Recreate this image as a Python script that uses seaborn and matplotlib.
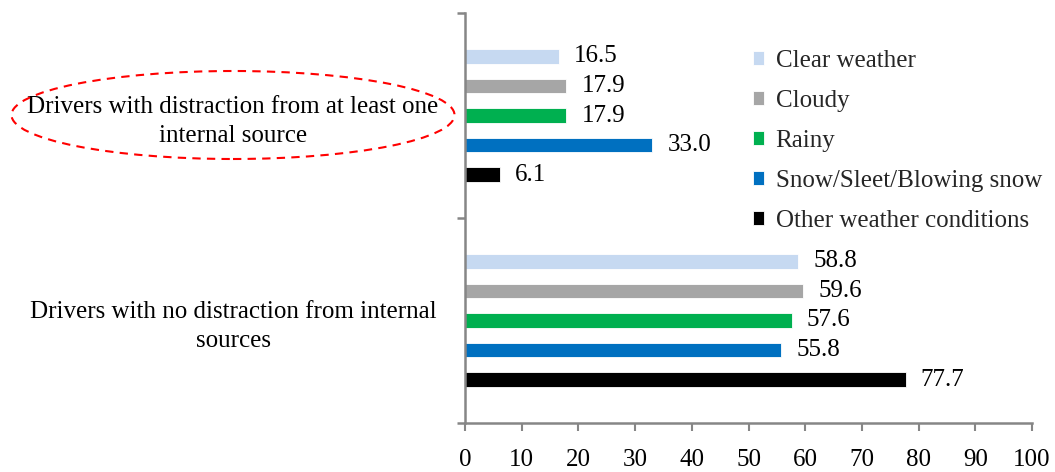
"""
Distraction from internal sources by weather condition - horizontal grouped bars.
"""

import matplotlib
matplotlib.use('Agg')
import matplotlib.pyplot as plt
from matplotlib.patches import Ellipse
import seaborn as sns
import pandas as pd

# data
groups = ['Drivers with distraction from at least one\ninternal source',
          'Drivers with no distraction from internal\nsources']
conditions = ['Clear weather', 'Cloudy', 'Rainy', 'Snow/Sleet/Blowing snow',
              'Other weather conditions']
internal_source = [16.5, 17.9, 17.9, 33.0, 6.1]
no_internal = [58.8, 59.6, 57.6, 55.8, 77.7]
colors = ['#C6D9F1', '#A6A6A6', '#00B050', '#0070C0', '#000000']
x_ticks = list(range(0, 101, 10))

rows = []
for cond, a, b in zip(conditions, internal_source, no_internal):
    rows.append({'group': groups[0], 'condition': cond, 'value': a})
    rows.append({'group': groups[1], 'condition': cond, 'value': b})
df = pd.DataFrame(rows)

FS = 18

sns.set_style('white')
plt.rcParams['font.family'] = ['Liberation Serif', 'DejaVu Serif']
plt.rcParams['font.size'] = FS

fig = plt.figure(figsize=(10.55, 4.72), dpi=100)
ax = fig.add_axes([465 / 1055, 49 / 472, 567 / 1055, 410 / 472])

sns.barplot(data=df, x='value', y='group', hue='condition', orient='h',
            order=groups, hue_order=conditions, palette=colors, saturation=1,
            width=0.72, gap=0.52, edgecolor='white', linewidth=0.6, ax=ax)

for container in ax.containers:
    ax.bar_label(container, fmt='%.1f', padding=11, fontsize=FS, color='black')

axis_gray = '#868686'
ax.set_xlim(0, 100)
ax.set_ylim(1.5, -0.5)
ax.set_xticks(x_ticks)
ax.set_xlabel('')
ax.set_ylabel('')

for side in ['top', 'right']:
    ax.spines[side].set_visible(False)
for side in ['left', 'bottom']:
    ax.spines[side].set_color(axis_gray)
    ax.spines[side].set_linewidth(1.8)

ax.tick_params(axis='x', direction='out', length=6, width=1.5, color=axis_gray,
               pad=13, labelsize=FS, labelcolor='black', bottom=True)
ax.set_yticks([-0.5, 0.5, 1.5], minor=True)
ax.tick_params(axis='y', which='minor', direction='out', length=6, width=1.8,
               color=axis_gray, left=True)
ax.tick_params(axis='y', which='major', length=0, pad=167, labelsize=FS,
               labelcolor='black')
for lab in ax.get_yticklabels():
    lab.set_horizontalalignment('center')
    lab.set_multialignment('center')
    lab.set_linespacing(1.4)

handles, labels = ax.get_legend_handles_labels()
ax.legend(handles, labels, loc='upper left', frameon=False,
          bbox_to_anchor=(743 / 1055, 1 - 40 / 472), bbox_transform=fig.transFigure,
          handlelength=0.45, handleheight=0.45, handletextpad=0.45,
          labelspacing=0.72, fontsize=FS, borderaxespad=0)

# dashed ellipse round the first category label
ring = Ellipse((233 / 1055, 1 - 115 / 472), 443 / 1055, 88 / 472,
               transform=fig.transFigure, fill=False, edgecolor='#FF0000',
               linestyle=(0, (4, 3)), linewidth=1.5)
fig.patches.append(ring)

fig.savefig('out.png', dpi=100)
